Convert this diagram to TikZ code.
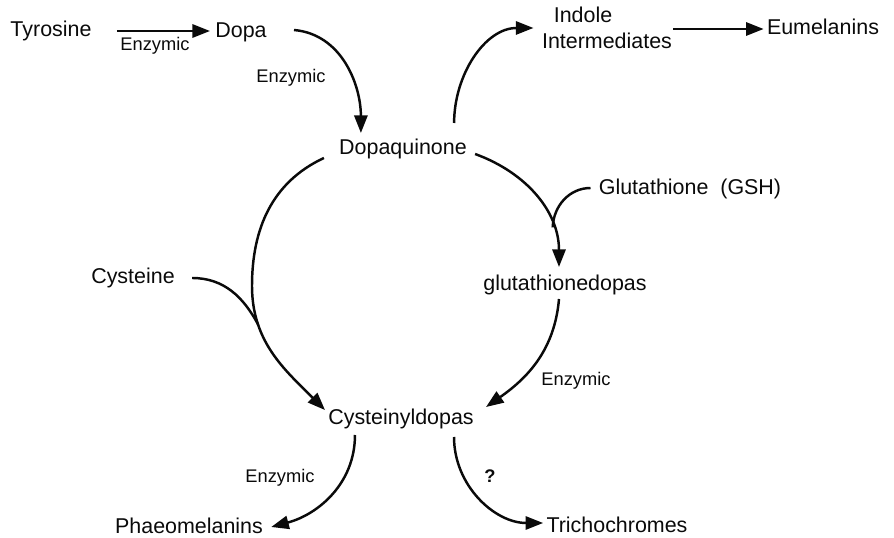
\documentclass[tikz,border=0pt]{standalone}
\usepackage{fontspec}
\setmainfont{Liberation Sans}
\usepackage{tikz}
\usetikzlibrary{arrows.meta, positioning, calc}
\definecolor{inkblack}{RGB}{10, 10, 10}

\begin{document}
\begin{tikzpicture}[x=0.02cm, y=0.02cm,
    chem/.style={anchor=base, inner sep=0pt, text=inkblack, font=\fontsize{12.2}{14}\selectfont},
    enzlabel/.style={anchor=base, inner sep=0pt, text=inkblack, font=\fontsize{10.4}{12}\selectfont},
    pathway/.style={draw=inkblack, line width=1.4pt, -{Triangle[length=10pt, width=7.5pt]}},
    joinline/.style={draw=inkblack, line width=1.4pt}]
    \useasboundingbox (0,0) rectangle (894,538);

    % compounds
    \node[chem] (tyrosine) at (51,501) {Tyrosine};
    \node[chem] (dopa) at (241,500) {Dopa};
    \node[chem] (dopaquinone) at (403,383) {Dopaquinone};
    \node[chem] (indole) at (583,515) {Indole};
    \node[chem] (intermediates) at (607,489) {Intermediates};
    \node[chem] (eumelanins) at (823,503) {Eumelanins};
    \node[chem] (glutathione) at (690,343) {Glutathione\ \ (GSH)};
    \node[chem] (glutdopas) at (565,247) {glutathionedopas};
    \node[chem] (cysteine) at (133,254) {Cysteine};
    \node[chem] (cysdopas) at (401,113) {Cysteinyldopas};
    \node[chem] (phaeomelanins) at (189,4) {Phaeomelanins};
    \node[chem] (trichochromes) at (617,5) {Trichochromes};

    % labels on the steps
    \node[enzlabel] (enzA) at (155,487) {Enzymic};
    \node[enzlabel] (enzB) at (291,455) {Enzymic};
    \node[enzlabel] (enzC) at (576,152) {Enzymic};
    \node[enzlabel] (enzD) at (280,55) {Enzymic};
    \node[enzlabel, font=\fontsize{10.4}{12}\selectfont\bfseries] (unknown) at (490,55) {?};

    % connectors
    \draw[pathway] ($(tyrosine.base east)+(25,6)$) -- ($(dopa.base west)+(-5,7)$);
    \draw[pathway] ($(dopa.base east)+(27,8)$) to[out=-5, in=90] ($(dopaquinone.base west)+(22,22)$);
    \draw[pathway] ($(dopaquinone.base east)+(-13,32)$) to[out=90, in=180] ($(indole.base west)+(-20,-5)$);
    \draw[pathway] ($(intermediates.base east)+(1,20)$) -- ($(eumelanins.base west)+(-3,6)$);
    \draw[pathway] ($(dopaquinone.base east)+(8,1)$) to[out=-20, in=90]
        coordinate[pos=0.74] (gshjoin) ($(glutdopas.base west)+(76,24)$);
    \draw[joinline] ($(glutathione.base west)+(-8,7)$) to[out=180, in=88] (gshjoin);
    \draw[pathway] ($(glutdopas.base west)+(76,-8)$) to[out=-95, in=35] ($(cysdopas.base east)+(12,18)$);
    \draw[pathway] ($(dopaquinone.base west)+(-15,-3)$) to[out=205, in=90] (252,252)
        to[out=-90, in=135] coordinate[pos=0.26] (cysjoin) ($(cysdopas.base west)+(-3,15)$);
    \draw[joinline] ($(cysteine.base east)+(17,6)$) to[out=0, in=118] (cysjoin);
    \draw[pathway] ($(cysdopas.base west)+(27,-10)$) to[out=-90, in=15] ($(phaeomelanins.base east)+(8,7)$);
    \draw[pathway] ($(cysdopas.base east)+(-20,-12)$) to[out=-90, in=180] ($(trichochromes.base west)+(-3,10)$);
\end{tikzpicture}
\end{document}
